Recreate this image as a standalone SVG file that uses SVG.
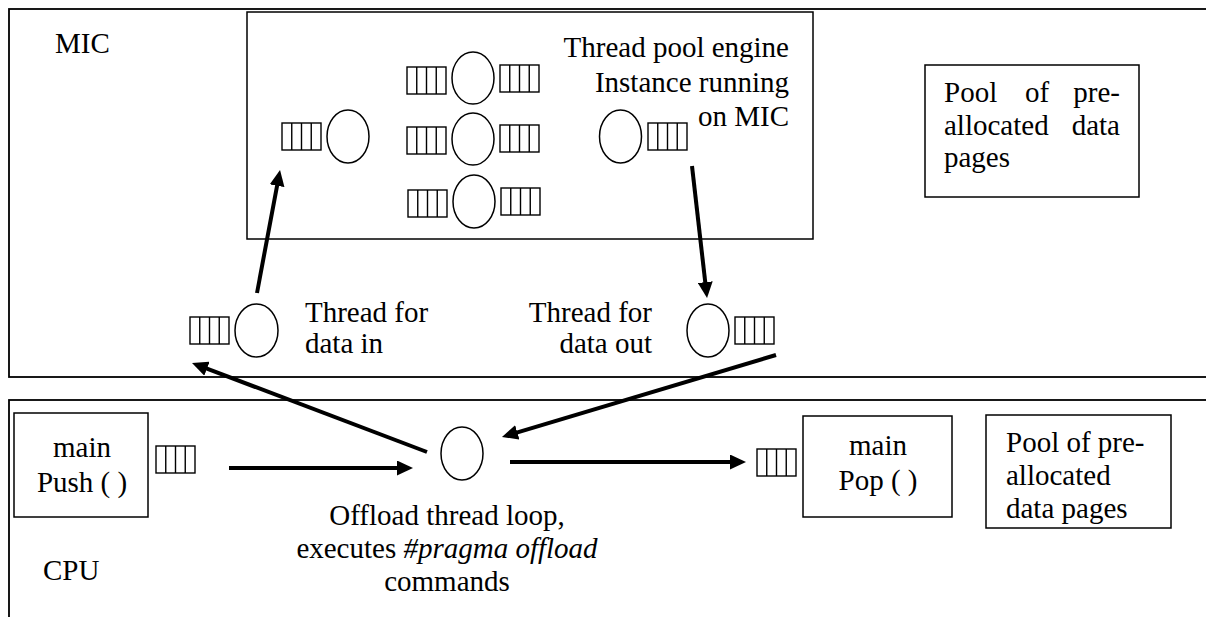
<svg xmlns="http://www.w3.org/2000/svg" width="1206" height="617" viewBox="0 0 1206 617">
<style>
.box{fill:none;stroke:#000;stroke-width:1.8}
.ib{fill:#fff;stroke:#000;stroke-width:1.5}
.th{fill:#fff;stroke:#000;stroke-width:1.5}
.q rect,.q path{fill:#fff;stroke:#000;stroke-width:1.4}
text{font-family:'Liberation Serif','Times New Roman',serif;font-size:29px;fill:#000}
.c{text-anchor:middle}
.e{text-anchor:end}
.arr{stroke:#000;stroke-width:4;fill:none;marker-end:url(#ah)}
</style>
<defs>
<marker id="ah" markerUnits="userSpaceOnUse" markerWidth="16" markerHeight="15" viewBox="0 0 16 15" refX="5" refY="7.5" orient="auto">
<path d="M0,0 L16,7.5 L0,15 z" fill="#000"/>
</marker>
<g id="q" class="q"><rect width="39" height="27"/><path d="M9.75,0V27M19.5,0V27M29.25,0V27"/></g>
</defs>
<rect width="1206" height="617" fill="#fff"/>

<g id="mic">
<rect class="box" x="9" y="9" width="1220" height="368"/>
<text x="55" y="53">MIC</text>
</g>

<g id="cpu">
<rect class="box" x="9" y="400" width="1220" height="240"/>
<text x="43" y="580">CPU</text>
</g>

<g id="thread-pool">
<rect class="ib" x="247" y="12" width="566" height="227"/>
<text class="e" x="789" y="57">Thread pool engine</text>
<text class="e" x="789" y="92">Instance running</text>
<text class="e" x="789" y="126">on MIC</text>
<use href="#q" x="282" y="123"/>
<ellipse class="th" cx="348" cy="136.5" rx="21" ry="26.5"/>
<use href="#q" x="407" y="67"/>
<ellipse class="th" cx="473" cy="78" rx="21" ry="26"/>
<use href="#q" x="500" y="65"/>
<use href="#q" x="407" y="127"/>
<ellipse class="th" cx="473" cy="139" rx="21" ry="26"/>
<use href="#q" x="500" y="125"/>
<use href="#q" x="408" y="190"/>
<ellipse class="th" cx="474" cy="201.5" rx="21" ry="26.5"/>
<use href="#q" x="501" y="188"/>
<ellipse class="th" cx="620.5" cy="136.5" rx="21" ry="26.5"/>
<use href="#q" x="648" y="123"/>
</g>

<g id="mic-pool">
<rect class="ib" x="925" y="65" width="214" height="132"/>
<text x="944" y="102">Pool</text>
<text x="1025" y="102">of</text>
<text class="e" x="1120" y="102">pre-</text>
<text x="944" y="135">allocated</text>
<text class="e" x="1120" y="135">data</text>
<text x="944" y="167">pages</text>
</g>

<g id="thread-data-in">
<use href="#q" x="190" y="317"/>
<ellipse class="th" cx="256.5" cy="330.5" rx="21.5" ry="26.5"/>
<text x="305" y="322">Thread for</text>
<text x="305" y="353">data in</text>
</g>

<g id="thread-data-out">
<text class="e" x="652" y="322">Thread for</text>
<text class="e" x="652" y="353">data out</text>
<ellipse class="th" cx="708" cy="330.5" rx="21" ry="26.5"/>
<use href="#q" x="735" y="317"/>
</g>

<g id="main-push">
<rect class="ib" x="14" y="413" width="134" height="104"/>
<text class="c" x="82" y="457">main</text>
<text class="c" x="82" y="492">Push ( )</text>
<use href="#q" x="156" y="446"/>
</g>

<g id="offload">
<ellipse class="th" cx="462" cy="453.5" rx="21" ry="26.5"/>
<text class="c" x="447" y="525">Offload thread loop,</text>
<text class="c" x="447" y="558">executes <tspan font-style="italic">#pragma offload</tspan></text>
<text class="c" x="447" y="591">commands</text>
</g>

<g id="main-pop">
<use href="#q" x="757" y="449"/>
<rect class="ib" x="803" y="416" width="149" height="101"/>
<text class="c" x="878" y="455">main</text>
<text class="c" x="878" y="490">Pop ( )</text>
</g>

<g id="cpu-pool">
<rect class="ib" x="986" y="415" width="185" height="113"/>
<text x="1006" y="452">Pool of pre-</text>
<text x="1006" y="485">allocated</text>
<text x="1006" y="518">data pages</text>
</g>

<g id="connectors">
<line class="arr" x1="257" y1="293" x2="278" y2="180.8"/>
<line class="arr" x1="692" y1="166" x2="705.8" y2="287.1"/>
<line class="arr" x1="427" y1="452" x2="202.3" y2="366.9"/>
<line class="arr" x1="776" y1="355" x2="512.5" y2="433.8"/>
<line class="arr" x1="229" y1="468" x2="402" y2="468"/>
<line class="arr" x1="510" y1="462" x2="735" y2="462"/>
</g>
</svg>
